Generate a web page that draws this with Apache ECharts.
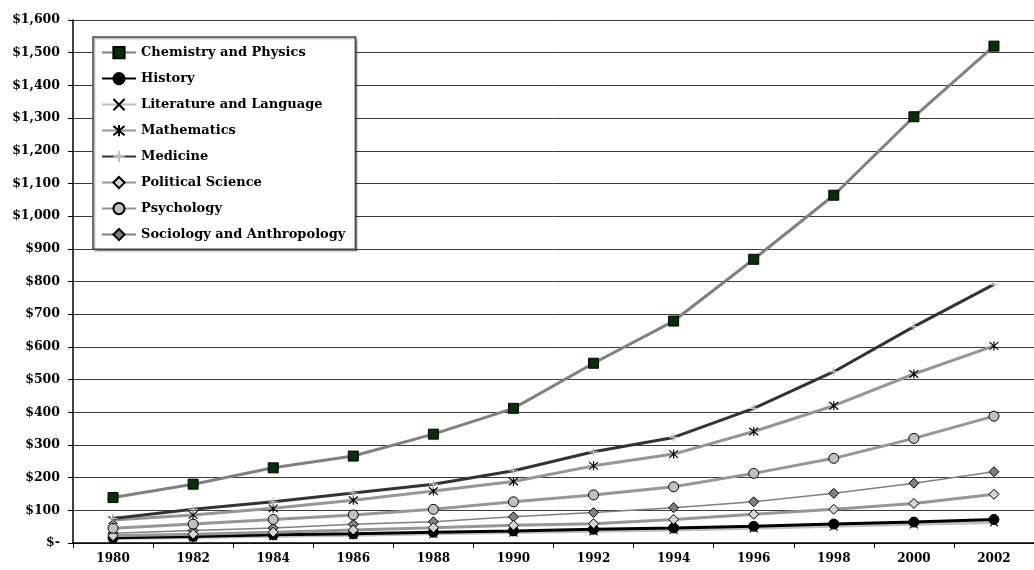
<!DOCTYPE html>
<html>
<head>
<meta charset="utf-8">
<script src="https://cdn.jsdelivr.net/npm/echarts@6/dist/echarts.min.js"></script>
<style>
  html, body { margin: 0; padding: 0; background: #fff; }
  #chart { width: 1034px; height: 570px; }
</style>
</head>
<body>
<div id="chart"></div>
<script>
// Years on the horizontal axis
var years = ['1980', '1982', '1984', '1986', '1988', '1990', '1992', '1994', '1996', '1998', '2000', '2002'];

// Average price per field, in dollars
var chemistryPhysicsPrices = [139, 180, 230, 266, 333, 412, 550, 679, 868, 1064, 1304, 1520];
var historyPrices = [16, 20, 25, 28, 33, 37, 42, 46, 51, 58, 64, 72];
var literatureLanguagePrices = [14, 17, 21, 24, 28, 32, 36, 40, 45, 51, 57, 63];
var mathematicsPrices = [70, 86, 106, 131, 159, 188, 236, 272, 341, 420, 517, 603];
var medicinePrices = [75, 103, 126, 153, 180, 221, 279, 323, 412, 524, 662, 791];
var politicalSciencePrices = [22, 27, 33, 40, 47, 54, 59, 72, 88, 103, 121, 149];
var psychologyPrices = [45, 58, 72, 86, 103, 126, 147, 172, 213, 259, 320, 388];
var sociologyAnthropologyPrices = [30, 38, 46, 57, 65, 80, 93, 108, 126, 152, 183, 218];

// Value axis ticks
var yMin = 0, yMax = 1600, yStep = 100;

var FONT = 'DejaVu Serif';

var crossPath = 'path://M0,0L10,10M10,0L0,10';
var starPath = 'path://M0,0L10,10M10,0L0,10M5,-1L5,11';
var plusPath = 'path://M5,0L5,10M0,5L10,5';

function money(v) {
  if (v === 0) return '$-';
  return '$' + v.toString().replace(/\B(?=(\d{3})+(?!\d))/g, ',');
}

function lineSeries(name, data, lineColor, lineWidth, symbol, size, fill, border, borderWidth) {
  return {
    name: name,
    type: 'line',
    data: data,
    symbol: symbol,
    symbolSize: size,
    showAllSymbol: true,
    lineStyle: { color: lineColor, width: lineWidth },
    itemStyle: { color: fill, borderColor: border, borderWidth: borderWidth, opacity: 1 },
    emphasis: { disabled: true },
    animation: false
  };
}

var fieldSeries = [
  lineSeries('Chemistry and Physics', chemistryPhysicsPrices, '#808080', 3, 'rect', 10, '#003300', '#000', 1),
  lineSeries('History', historyPrices, '#000000', 3, 'circle', 10, '#000000', '#000', 1),
  lineSeries('Literature and Language', literatureLanguagePrices, '#c0c0c0', 3, crossPath, 8, '#000', '#000', 1.2),
  lineSeries('Mathematics', mathematicsPrices, '#969696', 3, starPath, 9, '#000', '#000', 1.2),
  lineSeries('Medicine', medicinePrices, '#333333', 3, plusPath, 9, '#c0c0c0', '#c0c0c0', 1.2),
  lineSeries('Political Science', politicalSciencePrices, '#969696', 3, 'diamond', 10, '#d4d4d4', '#000', 1),
  lineSeries('Psychology', psychologyPrices, '#969696', 3, 'circle', 10, '#c0c0c0', '#000', 1),
  lineSeries('Sociology and Anthropology', sociologyAnthropologyPrices, '#808080', 1.5, 'diamond', 10, '#808080', '#000', 1)
];

// Draw order: later entries lie on top
var drawOrder = [2, 1, 7, 5, 6, 3, 4, 0];
drawOrder.forEach(function (idx, k) { fieldSeries[idx].z = 2 + k; });

var chart = echarts.init(document.getElementById('chart'), null, { renderer: 'canvas' });
chart.setOption({
  backgroundColor: '#ffffff',
  animation: false,
  grid: { left: 73, top: 20, width: 969, height: 523, containLabel: false },
  legend: {
    orient: 'vertical',
    left: 93,
    top: 37,
    padding: [9, 10, 8, 8],
    itemWidth: 34,
    itemHeight: 14,
    itemGap: 12.8,
    backgroundColor: '#ffffff',
    borderColor: '#444',
    borderWidth: 1.5,
    shadowColor: 'rgba(0,0,0,0.3)',
    shadowOffsetX: 1.5,
    shadowOffsetY: 1.5,
    shadowBlur: 1,
    textStyle: { fontFamily: FONT, fontWeight: 'bold', fontSize: 13, color: '#000' },
    data: fieldSeries.map(function (s) { return s.name; })
  },
  xAxis: {
    type: 'category',
    data: years,
    boundaryGap: true,
    axisLine: { show: true, lineStyle: { color: '#000', width: 1.5 } },
    axisTick: { show: true, alignWithLabel: false, length: 5, lineStyle: { color: '#000' } },
    axisLabel: { fontFamily: FONT, fontWeight: 'bold', fontSize: 12, color: '#000', margin: 10, interval: 0 },
    splitLine: { show: false }
  },
  yAxis: {
    type: 'value',
    min: yMin,
    max: yMax,
    interval: yStep,
    axisLine: { show: true, lineStyle: { color: '#000', width: 1.5 } },
    axisTick: { show: true, inside: false, length: 5, lineStyle: { color: '#000' } },
    axisLabel: { fontFamily: FONT, fontWeight: 'bold', fontSize: 12.5, color: '#000', margin: 13, formatter: money },
    splitLine: { show: true, lineStyle: { color: '#3a3a3a', width: 1 } }
  },
  series: fieldSeries
});
</script>
</body>
</html>
